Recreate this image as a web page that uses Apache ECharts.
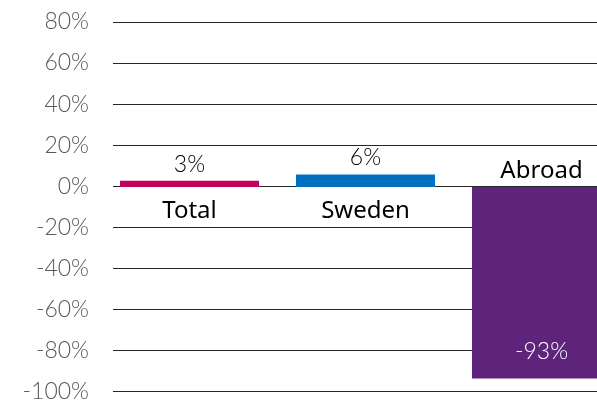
<!DOCTYPE html>
<html>
<head>
<meta charset="utf-8">
<script src="https://cdn.jsdelivr.net/npm/echarts@6/dist/echarts.min.js"></script>
<style>
  html, body { margin: 0; padding: 0; background: #fff; overflow: hidden; }
  #chart { width: 630px; height: 403px; }
</style>
</head>
<body>
<div id="chart"></div>
<script>
var categories = ['Total', 'Sweden', 'Abroad'];
var values = [3, 6, -93];
var barColors = ['#C2005E', '#0070C0', '#5E247C'];
var yMin = -100, yMax = 80, yStep = 20;

var chart = echarts.init(document.getElementById('chart'));

var mainData = [];
var nameData = [];
for (var i = 0; i < values.length; i++) {
  var neg = values[i] < 0;
  mainData.push({
    value: values[i],
    itemStyle: { color: barColors[i] },
    label: neg ? { position: 'insideBottom', color: '#fff', distance: 15 } : {}
  });
  nameData.push({
    value: 0,
    label: neg ? { position: 'top', distance: 4 } : { position: 'bottom', distance: 12 }
  });
}

var option = {
  animation: false,
  grid: [
    // bars
    { left: 101.5, right: 0.5, top: 22, bottom: 10, containLabel: false },
    // gridlines + y labels
    { left: 113, right: 0, top: 22, bottom: 10, containLabel: false }
  ],
  xAxis: [
    {
      gridIndex: 0,
      type: 'category',
      data: categories,
      axisLine: { show: false },
      axisTick: { show: false },
      axisLabel: { show: false }
    },
    {
      gridIndex: 1,
      type: 'value',
      show: false
    }
  ],
  yAxis: [
    {
      gridIndex: 0,
      type: 'value',
      min: yMin,
      max: yMax,
      interval: yStep,
      show: false
    },
    {
      gridIndex: 1,
      type: 'value',
      min: yMin,
      max: yMax,
      interval: yStep,
      axisLine: { show: false },
      axisTick: { show: false },
      axisLabel: {
        formatter: '{value}%',
        fontFamily: 'Lato',
        fontWeight: 300,
        fontSize: 23,
        color: '#595959',
        margin: 24
      },
      splitLine: { lineStyle: { color: '#262626', width: 1.2 } }
    }
  ],
  series: [
    {
      type: 'bar',
      xAxisIndex: 0,
      yAxisIndex: 0,
      z: 3,
      data: mainData,
      barCategoryGap: '21%',
      barGap: '-100%',
      label: {
        show: true,
        position: 'top',
        distance: 5,
        formatter: '{c}%',
        fontFamily: 'Lato',
        fontWeight: 300,
        fontSize: 23,
        color: '#000'
      }
    },
    {
      type: 'bar',
      xAxisIndex: 0,
      yAxisIndex: 0,
      z: 3,
      data: nameData,
      barCategoryGap: '21%',
      barGap: '-100%',
      itemStyle: { color: 'transparent' },
      label: {
        show: true,
        formatter: function (p) { return p.name; },
        fontFamily: 'Noto Sans',
        fontSize: 24,
        color: '#000'
      }
    }
  ]
};

chart.setOption(option);
</script>
</body>
</html>
